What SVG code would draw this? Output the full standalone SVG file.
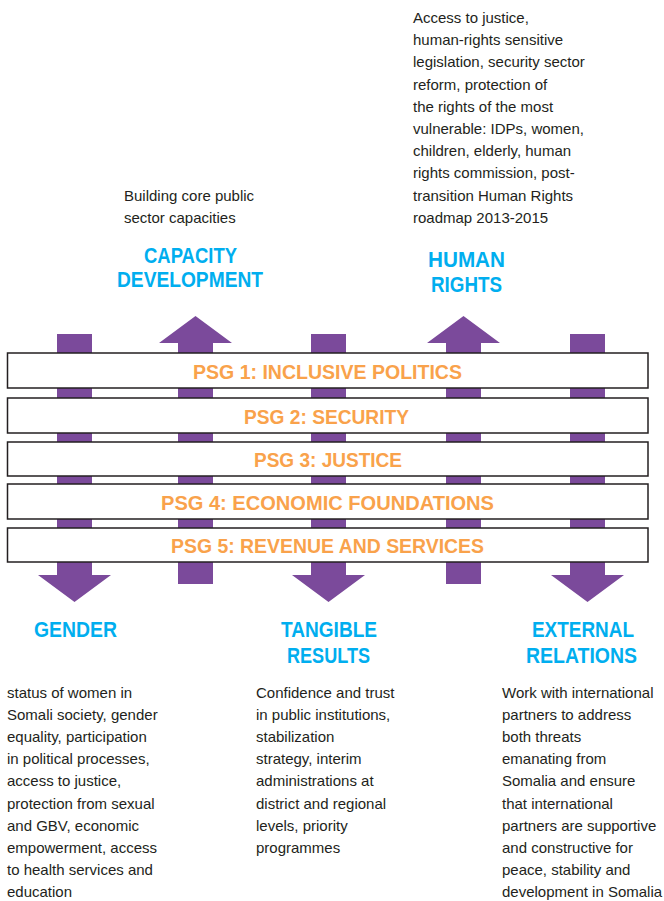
<svg xmlns="http://www.w3.org/2000/svg" width="664" height="901" viewBox="0 0 664 901">
<style>
.arr{fill:#7B4A9B}
.bar{fill:#fff;stroke:#231F20;stroke-width:1.5}
.psg{font-family:"Liberation Sans",Arial,sans-serif;font-weight:bold;font-size:21px;fill:#F9A24B}
.hd{font-family:"Liberation Sans",Arial,sans-serif;font-weight:bold;font-size:22px;fill:#00AEEF}
.bd{font-family:"Liberation Sans",Arial,sans-serif;font-size:15px;fill:#231F20}
</style>
<rect width="664" height="901" fill="#fff"/>
<g id="connectors">
<polygon id="arrow-gender" class="arr" points="57,334 92,334 92,575 111,575 74.5,602 38,575 57,575"/>
<polygon id="arrow-capacity" class="arr" points="178,584 213,584 213,343 232,343 195.5,316 159,343 178,343"/>
<polygon id="arrow-tangible" class="arr" points="311,334 346,334 346,575 365,575 328.5,602 292,575 311,575"/>
<polygon id="arrow-human" class="arr" points="446,584 481,584 481,343 500,343 463.5,316 427,343 446,343"/>
<polygon id="arrow-external" class="arr" points="570,334 605,334 605,575 624,575 587.5,602 551,575 570,575"/>
</g>
<g id="psg1"><rect class="bar" x="7.5" y="353" width="640.5" height="35"/><text class="psg" x="193" y="379" textLength="269" lengthAdjust="spacingAndGlyphs">PSG 1: INCLUSIVE POLITICS</text></g>
<g id="psg2"><rect class="bar" x="7.5" y="398" width="640.5" height="35"/><text class="psg" x="244" y="424" textLength="165" lengthAdjust="spacingAndGlyphs">PSG 2: SECURITY</text></g>
<g id="psg3"><rect class="bar" x="7.5" y="442" width="640.5" height="34"/><text class="psg" x="254" y="467" textLength="148" lengthAdjust="spacingAndGlyphs">PSG 3: JUSTICE</text></g>
<g id="psg4"><rect class="bar" x="7.5" y="484" width="640.5" height="35"/><text class="psg" x="161" y="510" textLength="333" lengthAdjust="spacingAndGlyphs">PSG 4: ECONOMIC FOUNDATIONS</text></g>
<g id="psg5"><rect class="bar" x="7.5" y="528" width="640.5" height="34"/><text class="psg" x="171" y="553" textLength="313" lengthAdjust="spacingAndGlyphs">PSG 5: REVENUE AND SERVICES</text></g>
<g id="capacity">
<text class="bd" x="124" y="201">Building core public</text>
<text class="bd" x="124" y="223">sector capacities</text>
<text class="hd" x="144" y="263" textLength="93" lengthAdjust="spacingAndGlyphs">CAPACITY</text>
<text class="hd" x="117" y="287" textLength="146" lengthAdjust="spacingAndGlyphs">DEVELOPMENT</text>
</g>
<g id="human-rights">
<text class="bd" x="413" y="23">Access to justice,</text>
<text class="bd" x="413" y="45.2">human-rights sensitive</text>
<text class="bd" x="413" y="67.4">legislation, security sector</text>
<text class="bd" x="413" y="89.6">reform, protection of</text>
<text class="bd" x="413" y="111.8">the rights of the most</text>
<text class="bd" x="413" y="134">vulnerable: IDPs, women,</text>
<text class="bd" x="413" y="156.2">children, elderly, human</text>
<text class="bd" x="413" y="178.4">rights commission, post-</text>
<text class="bd" x="413" y="200.6">transition Human Rights</text>
<text class="bd" x="413" y="222.8">roadmap 2013-2015</text>
<text class="hd" x="428" y="267" textLength="77" lengthAdjust="spacingAndGlyphs">HUMAN</text>
<text class="hd" x="431" y="292" textLength="71" lengthAdjust="spacingAndGlyphs">RIGHTS</text>
</g>
<g id="gender">
<text class="hd" x="34" y="637" textLength="83" lengthAdjust="spacingAndGlyphs">GENDER</text>
<text class="bd" x="7" y="698">status of women in</text>
<text class="bd" x="7" y="720.1">Somali society, gender</text>
<text class="bd" x="7" y="742.2">equality, participation</text>
<text class="bd" x="7" y="764.3">in political processes,</text>
<text class="bd" x="7" y="786.4">access to justice,</text>
<text class="bd" x="7" y="808.5">protection from sexual</text>
<text class="bd" x="7" y="830.6">and GBV, economic</text>
<text class="bd" x="7" y="852.7">empowerment, access</text>
<text class="bd" x="7" y="874.8">to health services and</text>
<text class="bd" x="7" y="896.9">education</text>
</g>
<g id="tangible-results">
<text class="hd" x="281" y="637" textLength="96" lengthAdjust="spacingAndGlyphs">TANGIBLE</text>
<text class="hd" x="287" y="663" textLength="83" lengthAdjust="spacingAndGlyphs">RESULTS</text>
<text class="bd" x="256" y="698">Confidence and trust</text>
<text class="bd" x="256" y="720.1">in public institutions,</text>
<text class="bd" x="256" y="742.2">stabilization</text>
<text class="bd" x="256" y="764.3">strategy, interim</text>
<text class="bd" x="256" y="786.4">administrations at</text>
<text class="bd" x="256" y="808.5">district and regional</text>
<text class="bd" x="256" y="830.6">levels, priority</text>
<text class="bd" x="256" y="852.7">programmes</text>
</g>
<g id="external-relations">
<text class="hd" x="532" y="637" textLength="102" lengthAdjust="spacingAndGlyphs">EXTERNAL</text>
<text class="hd" x="526" y="663" textLength="111" lengthAdjust="spacingAndGlyphs">RELATIONS</text>
<text class="bd" x="502" y="698">Work with international</text>
<text class="bd" x="502" y="720.1">partners to address</text>
<text class="bd" x="502" y="742.2">both threats</text>
<text class="bd" x="502" y="764.3">emanating from</text>
<text class="bd" x="502" y="786.4">Somalia and ensure</text>
<text class="bd" x="502" y="808.5">that international</text>
<text class="bd" x="502" y="830.6">partners are supportive</text>
<text class="bd" x="502" y="852.7">and constructive for</text>
<text class="bd" x="502" y="874.8">peace, stability and</text>
<text class="bd" x="502" y="896.9">development in Somalia</text>
</g>
</svg>
